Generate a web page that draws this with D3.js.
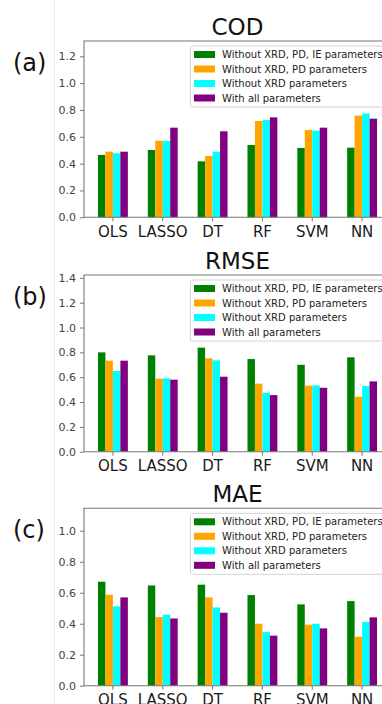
<!DOCTYPE html>
<html>
<head>
<meta charset="utf-8">
<script src="https://cdn.jsdelivr.net/npm/d3@7"></script>
<style>
  body { margin: 0; background: #fff; }
  svg { display: block; font-family: "DejaVu Sans", sans-serif; }
</style>
</head>
<body>
<svg width="382" height="704"></svg>
<script>
// categories and series
var categories = ['OLS', 'LASSO', 'DT', 'RF', 'SVM', 'NN'];
var seriesNames = ['Without XRD, PD, IE parameters', 'Without XRD, PD parameters',
                   'Without XRD parameters', 'With all parameters'];
var seriesColors = ['#008000', '#ffa500', '#00ffff', '#800080'];

// COD
var codNoXrdPdIe = [0.465, 0.502, 0.417, 0.539, 0.517, 0.519];
var codNoXrdPd   = [0.489, 0.571, 0.457, 0.718, 0.651, 0.758];
var codNoXrd     = [0.477, 0.569, 0.489, 0.725, 0.646, 0.773];
var codAll       = [0.489, 0.668, 0.641, 0.745, 0.668, 0.735];
var codTicks = [0, 0.2, 0.4, 0.6, 0.8, 1.0, 1.2];

// RMSE
var rmseNoXrdPdIe = [0.800, 0.776, 0.838, 0.746, 0.700, 0.760];
var rmseNoXrdPd   = [0.733, 0.588, 0.752, 0.548, 0.532, 0.443];
var rmseNoXrd     = [0.650, 0.591, 0.736, 0.475, 0.534, 0.529];
var rmseAll       = [0.733, 0.580, 0.604, 0.456, 0.515, 0.566];
var rmseTicks = [0, 0.2, 0.4, 0.6, 0.8, 1.0, 1.2, 1.4];

// MAE
var maeNoXrdPdIe = [0.671, 0.647, 0.652, 0.585, 0.525, 0.546];
var maeNoXrdPd   = [0.587, 0.443, 0.570, 0.400, 0.394, 0.316];
var maeNoXrd     = [0.512, 0.458, 0.505, 0.346, 0.400, 0.411];
var maeAll       = [0.570, 0.434, 0.471, 0.323, 0.370, 0.441];
var maeTicks = [0, 0.2, 0.4, 0.6, 0.8, 1.0];

var panels = [
    { title: 'COD', tag: '(a)', series: [codNoXrdPdIe, codNoXrdPd, codNoXrd, codAll], ticks: codTicks,
      yMax: 1.314, top: 41, bottom: 217.3 },
    { title: 'RMSE', tag: '(b)', series: [rmseNoXrdPdIe, rmseNoXrdPd, rmseNoXrd, rmseAll], ticks: rmseTicks,
      yMax: 1.423, top: 275, bottom: 451.7 },
    { title: 'MAE', tag: '(c)', series: [maeNoXrdPdIe, maeNoXrdPd, maeNoXrd, maeAll], ticks: maeTicks,
      yMax: 1.145, top: 508.3, bottom: 685.7 }
];

var svg = d3.select('svg');
var left = 84, right = 391;

// faint border line of the original figure
svg.append('line')
    .attr('x1', 54.5).attr('x2', 54.5).attr('y1', 0).attr('y2', 704)
    .attr('stroke', '#ececec').attr('stroke-width', 1);

var x = d3.scaleBand()
    .domain(categories)
    .range([left, right])
    .paddingInner(0.4)
    .paddingOuter(0.28);

var xSub = d3.scaleBand()
    .domain(d3.range(seriesNames.length))
    .range([0, x.bandwidth()]);

panels.forEach(function (p) {
    var y = d3.scaleLinear().domain([0, p.yMax]).range([p.bottom, p.top]);
    var g = svg.append('g');

    // bars
    p.series.forEach(function (vals, s) {
        g.selectAll('.bar' + s)
            .data(vals)
            .enter().append('rect')
            .attr('x', function (d, i) { return x(categories[i]) + xSub(s); })
            .attr('y', function (d) { return y(d); })
            .attr('width', xSub.bandwidth())
            .attr('height', function (d) { return y(0) - y(d); })
            .attr('fill', seriesColors[s]);
    });

    // axes
    var yAxis = d3.axisLeft(y).tickValues(p.ticks).tickFormat(d3.format('.1f')).tickSize(4).tickPadding(4);
    var ya = g.append('g').attr('transform', 'translate(' + left + ',0)').call(yAxis);
    ya.select('.domain').remove();
    ya.selectAll('line').attr('stroke', '#777');
    ya.selectAll('text').attr('font-size', 11).attr('fill', '#444')
        .attr('font-family', '"DejaVu Sans", sans-serif');

    var xAxis = d3.axisBottom(x).tickSize(4).tickPadding(5);
    var xa = g.append('g').attr('transform', 'translate(0,' + p.bottom + ')').call(xAxis);
    xa.select('.domain').remove();
    xa.selectAll('line').attr('stroke', '#777');
    xa.selectAll('text').attr('font-size', 15).attr('fill', '#1a1a1a')
        .attr('font-family', '"DejaVu Sans", sans-serif');

    // frame (right side is cropped off)
    g.append('path')
        .attr('d', 'M' + 400 + ',' + p.top + 'H' + left + 'V' + p.bottom + 'H' + 400)
        .attr('fill', 'none').attr('stroke', '#777').attr('stroke-width', 1.1);

    // title and panel tag
    g.append('text')
        .attr('x', (left + right) / 2).attr('y', p.top - 6)
        .attr('text-anchor', 'middle').attr('font-size', 23).attr('fill', '#111')
        .text(p.title);
    g.append('text')
        .attr('x', 13).attr('y', p.top + 30)
        .attr('font-size', 24).attr('fill', '#111')
        .text(p.tag);

    // legend
    var lg = g.append('g').attr('transform', 'translate(190.5,' + (p.top + 5) + ')');
    lg.append('rect')
        .attr('x', 0).attr('y', 0).attr('width', 200).attr('height', 61)
        .attr('rx', 2).attr('fill', '#fff').attr('fill-opacity', 0.85)
        .attr('stroke', '#d4d4d4').attr('stroke-width', 1);
    seriesNames.forEach(function (name, s) {
        var cy = 8.5 + s * 14.5;
        lg.append('rect')
            .attr('x', 3.5).attr('y', cy - 3.5).attr('width', 21).attr('height', 7)
            .attr('fill', seriesColors[s]);
        lg.append('text')
            .attr('x', 31.5).attr('y', cy + 3.6)
            .attr('font-size', 10).attr('fill', '#222')
            .text(name);
    });
});
</script>
</body>
</html>
